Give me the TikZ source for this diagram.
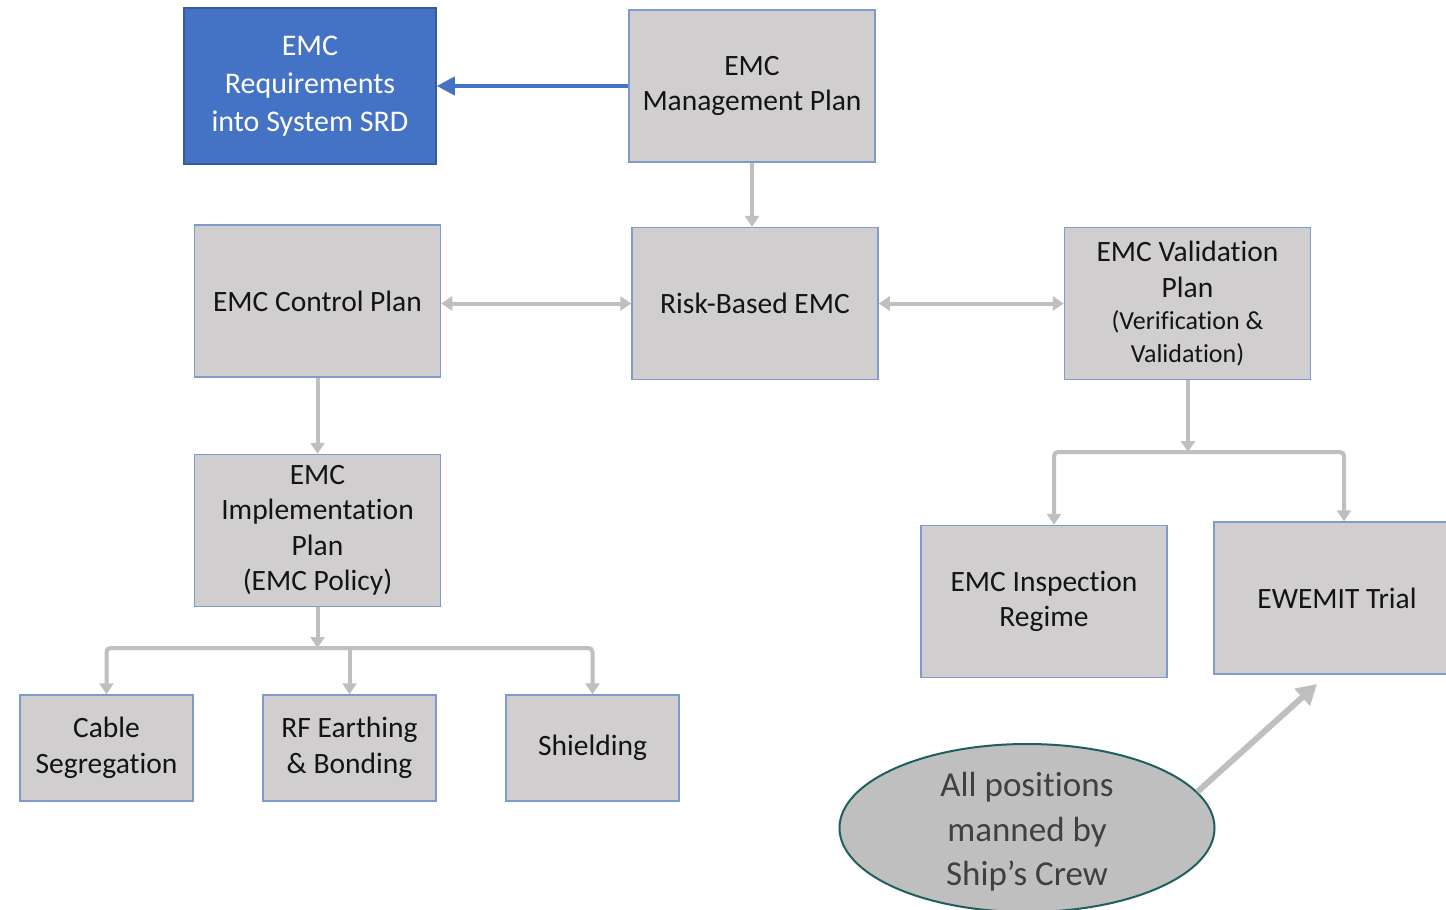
\documentclass[tikz,border=0pt]{standalone}
\usepackage{fontspec}
\setmainfont{Carlito}[Ligatures={NoCommon}]
\usetikzlibrary{arrows.meta,shapes.geometric}
\definecolor{boxfill}{HTML}{D0CECE}
\definecolor{boxline}{HTML}{7F9BCB}
\definecolor{srdblue}{HTML}{4472C4}
\definecolor{conn}{HTML}{BFBFBF}
\definecolor{ellline}{HTML}{1F5F5F}
\definecolor{elltext}{HTML}{404040}
\tikzset{
  box/.style={draw=boxline, line width=1.5pt, fill=boxfill, minimum width=246pt, minimum height=152pt,
    inner sep=0pt, align=center, text=black!92, font=\fontsize{29.5}{35.5}\selectfont},
  smallbox/.style={box, minimum width=173pt, minimum height=106pt},
  conline/.style={draw=conn, line width=4pt},
  conarrow/.style={conline, -{Triangle[length=11pt,width=14pt]}},
  conboth/.style={conline, {Triangle[length=11pt,width=14pt]}-{Triangle[length=11pt,width=14pt]}},
}
\begin{document}
\begin{tikzpicture}[x=1pt,y=-1pt]
\clip (0,0) rectangle (1446,910);
\fill[white] (0,0) rectangle (1446,910);

\node[box, fill=srdblue, draw=srdblue!80!black, text=white, minimum width=252pt, minimum height=156pt,
  font=\fontsize{30}{38}\selectfont] (srd) at (310,86) {EMC\\Requirements\\into System SRD};
\node[box] (mgmt) at (752,86) {EMC\\Management Plan};
\node[box] (ctrl) at (317.5,301) {EMC Control Plan};
\node[box] (risk) at (755,303.5) {Risk-Based EMC};
\node[box] (valid) at (1187.5,303.5) {EMC Validation\\Plan\\[-3pt]{\fontsize{26}{31}\selectfont (Verification \&}\\[-3pt]{\fontsize{26}{31}\selectfont Validation)}};
\node[box] (impl) at (317.5,530.5) {EMC\\Implementation\\Plan\\(EMC Policy)};
\node[smallbox] (cable) at (106.5,748) {Cable\\Segregation};
\node[smallbox] (rf) at (349.5,748) {RF Earthing\\\& Bonding};
\node[smallbox] (shield) at (592.5,748) {Shielding};
\node[box] (insp) at (1044,601.5) {EMC Inspection\\Regime};
\node[box] (ewemit) at (1337,598) {EWEMIT Trial};

\node[ellipse, draw=ellline, line width=2pt, fill=conn, minimum width=375pt, minimum height=168pt,
  inner sep=0pt] (crew) at (1027,828) {};
\node[align=center, text=elltext, font=\fontsize{35}{44.5}\selectfont, inner sep=0pt] (crewtext) at (1027,832)
  {All positions\\manned by\\Ship’s Crew};

% blue arrow
\draw[draw=srdblue, line width=4pt, -{Triangle[length=18pt,width=18pt]}] (mgmt.west) -- (srd.east);

% gray connectors
\draw[conarrow] (mgmt.south) -- (mgmt.south |- risk.north);
\draw[conboth] (ctrl.east |- risk.west) -- (risk.west);
\draw[conboth] (risk.east) -- (valid.west);
\draw[conarrow] (ctrl.south) -- (impl.north);

\coordinate (ib) at (317.5,648);
\draw[conarrow] (impl.south) -- (ib);
\draw[conline, rounded corners=4pt, -{Triangle[length=11pt,width=14pt]}] (ib) -| (cable.north);
\draw[conline, rounded corners=4pt, -{Triangle[length=11pt,width=14pt]}] (ib) -| (shield.north);
\draw[conarrow] (rf.north |- ib) -- (rf.north);

\coordinate (vb) at (1188,452);
\draw[conarrow] (valid.south -| vb) -- (vb);
\draw[conline, rounded corners=4pt, -{Triangle[length=11pt,width=14pt]}] (vb) -| (insp.north -| 1054,0);
\draw[conline, rounded corners=4pt, -{Triangle[length=11pt,width=14pt]}] (vb) -| (ewemit.north -| 1344,0);

\coordinate (tip) at (1317,684);
\draw[draw=conn, line width=6pt, -{Triangle[length=20pt,width=22pt]}] (crew.12) -- (tip);
\end{tikzpicture}
\end{document}
